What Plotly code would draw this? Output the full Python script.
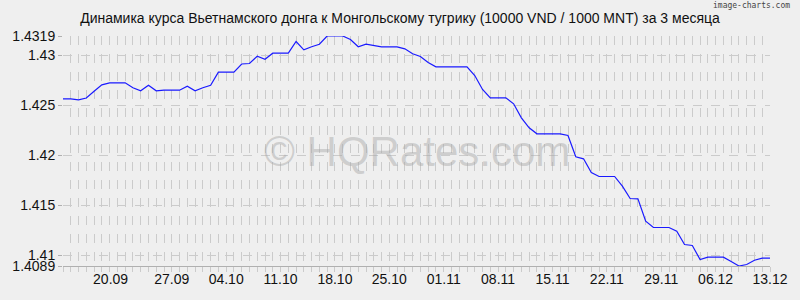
import pandas as pd
import plotly.graph_objects as go

start_date = "2023-09-13"
values = [
    1.42562, 1.42562, 1.42552, 1.42570, 1.42638, 1.42702, 1.42722, 1.42722, 1.42722, 1.42672,
    1.42642, 1.42698, 1.42642, 1.42648, 1.42648, 1.42648, 1.42688, 1.42642, 1.42672, 1.42698,
    1.42828, 1.42828, 1.42828, 1.42910, 1.42915, 1.42988, 1.42958, 1.43018, 1.43018, 1.43018,
    1.43135, 1.43052, 1.43082, 1.43108, 1.43190, 1.43190, 1.43190, 1.43155, 1.43082, 1.43108,
    1.43092, 1.43082, 1.43082, 1.43082, 1.43062, 1.43012, 1.42985, 1.42925, 1.42882, 1.42882,
    1.42882, 1.42882, 1.42882, 1.42795, 1.42655, 1.42572, 1.42572, 1.42572, 1.42512, 1.42372,
    1.42272, 1.42212, 1.42212, 1.42212, 1.42212, 1.42195, 1.41982, 1.41962, 1.41825, 1.41785,
    1.41785, 1.41785, 1.41688, 1.41565, 1.41562, 1.41338, 1.41275, 1.41275, 1.41275, 1.41238,
    1.41105, 1.41095, 1.40955, 1.40978, 1.40978, 1.40978, 1.40935, 1.40890, 1.40905, 1.40948,
    1.40968, 1.40968,
]
dates = pd.date_range(start_date, periods=len(values), freq="D")

x_tick_vals = ["2023-09-19 03:00", "2023-09-27", "2023-10-04", "2023-10-11", "2023-10-18",
               "2023-10-25", "2023-11-01", "2023-11-08", "2023-11-15", "2023-11-22",
               "2023-11-29", "2023-12-06", "2023-12-13"]
x_tick_text = ["20.09", "27.09", "04.10", "11.10", "18.10", "25.10", "01.11", "08.11",
               "15.11", "22.11", "29.11", "06.12", "13.12"]
y_tick_vals = [1.4089, 1.41, 1.415, 1.42, 1.425, 1.43, 1.4319]
y_tick_text = ["1.4089", "1.41", "1.415", "1.42", "1.425", "1.43", "1.4319"]

title = "Динамика курса Вьетнамского донга к Монгольскому тугрику (10000 VND / 1000 MNT) за 3 месяца"

bg = "#efefef"
grid = "#cbcbcb"

fig = go.Figure()
fig.add_trace(go.Scatter(x=dates, y=values, mode="lines",
                         line=dict(color="#1a1aff", width=1.2), hoverinfo="skip"))

fig.update_layout(
    width=800, height=300,
    margin=dict(l=59, r=21, t=36, b=34),
    paper_bgcolor=bg, plot_bgcolor=bg,
    showlegend=False,
    font=dict(family="Liberation Sans, Arial, sans-serif", size=14, color="#111111"),
    title=dict(text=title, x=0.5, xanchor="center", y=0.94, yanchor="middle",
               font=dict(size=14, color="#111111")),
    annotations=[
        dict(text="© HQRates.com", x=0.5, y=0.5, xref="paper", yref="paper",
             xanchor="center", yanchor="middle", showarrow=False,
             font=dict(size=42, color="rgba(165,165,165,0.45)",
                       family="Liberation Sans, Arial, sans-serif")),
        dict(text="image-charts.com", x=1, y=1, xref="paper", yref="paper",
             xanchor="right", yanchor="top", showarrow=False, yshift=37, xshift=22,
             font=dict(size=8, color="#444444", family="DejaVu Sans Mono, monospace")),
    ],
)

fig.update_xaxes(
    type="date",
    range=[dates[0], dates[-1]],
    tickmode="array", tickvals=x_tick_vals, ticktext=x_tick_text,
    showgrid=False, ticks="", ticklen=0,
    showline=True, linecolor="#b0b0b0", linewidth=1,
    zeroline=False,
    minor=dict(dtick=86400000, showgrid=True, gridcolor=grid, griddash="dash",
               gridwidth=1, ticks="outside", ticklen=5, tickcolor=grid),
    tickfont=dict(size=14),
)
fig.update_yaxes(
    range=[1.4089, 1.4319],
    tickmode="array", tickvals=y_tick_vals, ticktext=y_tick_text,
    showgrid=True, gridcolor=grid, griddash="dash", gridwidth=1,
    ticks="outside", ticklen=4, tickcolor="#b0b0b0",
    showline=False, zeroline=False,
    tickfont=dict(size=14),
)

fig.write_html("out.html")
